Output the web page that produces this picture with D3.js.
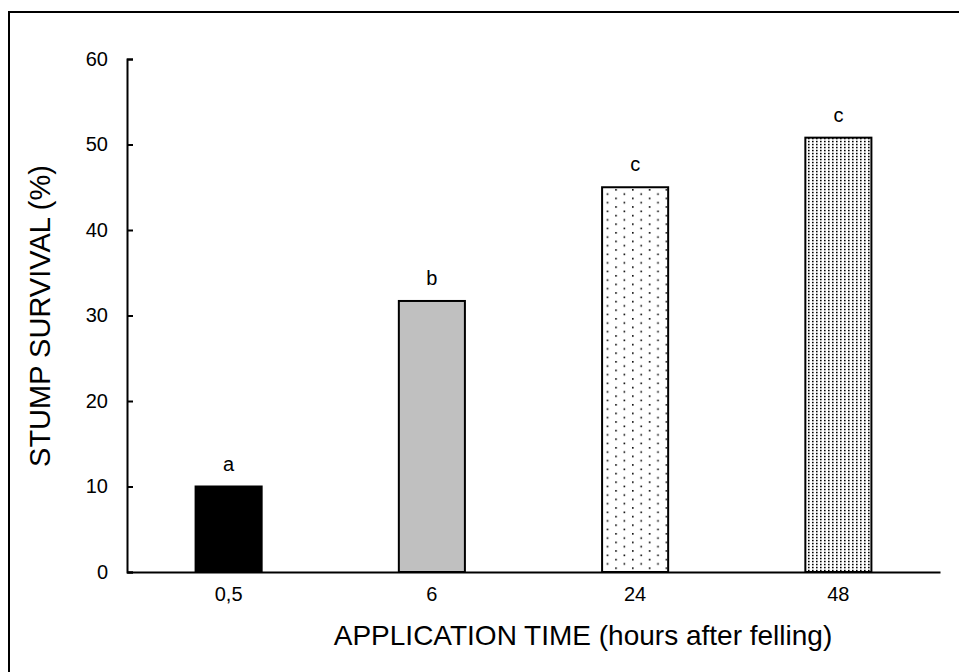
<!DOCTYPE html>
<html>
<head>
<meta charset="utf-8">
<script src="https://cdn.jsdelivr.net/npm/d3@7"></script>
<style>
  body { margin: 0; background: #fff; }
  text { font-family: "Liberation Sans", Arial, sans-serif; fill: #000; }
</style>
</head>
<body>
<div id="chart"></div>
<script>
// data
const categories = ["0,5", "6", "24", "48"];
const survival = [10, 31.7, 45, 50.8];
const letters = ["a", "b", "c", "c"];
const fills = ["#000000", "#c0c0c0", "url(#dotsSparse)", "url(#dotsDense)"];
const yTicks = [0, 10, 20, 30, 40, 50, 60];

const W = 959, H = 672;
const margin = {top: 59, right: 19, bottom: 100, left: 127},
    width = W - margin.left - margin.right,
    height = H - margin.top - margin.bottom;

const svg = d3.select("#chart").append("svg")
    .attr("width", W)
    .attr("height", H);

// fill patterns for the two dotted bars
const defs = svg.append("defs");
const p1 = defs.append("pattern").attr("id", "dotsSparse")
    .attr("patternUnits", "userSpaceOnUse").attr("width", 16.8).attr("height", 8.6);
p1.append("rect").attr("width", 16.8).attr("height", 8.6).attr("fill", "#fff");
p1.append("rect").attr("x", 1).attr("y", 1).attr("width", 1.6).attr("height", 1.6).attr("fill", "#000");
p1.append("rect").attr("x", 9.4).attr("y", 5.3).attr("width", 1.6).attr("height", 1.6).attr("fill", "#000");

const p2 = defs.append("pattern").attr("id", "dotsDense")
    .attr("patternUnits", "userSpaceOnUse").attr("width", 4).attr("height", 3);
p2.append("rect").attr("width", 4).attr("height", 3).attr("fill", "#fff");
p2.append("rect").attr("x", 1).attr("y", 0.8).attr("width", 1.6).attr("height", 1.5).attr("fill", "#000");

// frame
svg.append("rect")
    .attr("x", 9).attr("y", 12)
    .attr("width", 970).attr("height", 680)
    .attr("fill", "none").attr("stroke", "#000").attr("stroke-width", 2);

const g = svg.append("g")
    .attr("transform", `translate(${margin.left},${margin.top})`);

const x = d3.scaleBand()
    .domain(categories)
    .range([0, width])
    .paddingInner(0.675)
    .paddingOuter(0.3375);

const y = d3.scaleLinear()
    .domain([0, 60])
    .range([height, 0]);

// bars
g.selectAll(".bar")
  .data(survival)
  .join("rect")
    .attr("class", "bar")
    .attr("x", (d, i) => x(categories[i]))
    .attr("y", d => y(d))
    .attr("width", x.bandwidth())
    .attr("height", d => height - y(d))
    .attr("fill", (d, i) => fills[i])
    .attr("stroke", "#000")
    .attr("stroke-width", 2);

// significance letters
g.selectAll(".lbl")
  .data(survival)
  .join("text")
    .attr("class", "lbl")
    .attr("x", (d, i) => x(categories[i]) + x.bandwidth() / 2)
    .attr("y", d => y(d) - 16)
    .attr("text-anchor", "middle")
    .style("font-size", "20px")
    .text((d, i) => letters[i]);

// y axis
const yAxis = g.append("g")
    .call(d3.axisLeft(y).tickValues(yTicks).tickSizeInner(-6).tickSizeOuter(-6).tickPadding(19));
yAxis.select(".domain").attr("stroke-width", 2);
yAxis.selectAll(".tick line").attr("stroke-width", 2);
yAxis.selectAll("text").style("font-size", "20px");

// x axis
const xAxis = g.append("g")
    .attr("transform", `translate(0,${height})`)
    .call(d3.axisBottom(x).tickSize(0).tickPadding(15));
xAxis.select(".domain").attr("stroke-width", 2);
xAxis.selectAll("text").style("font-size", "20px");

// axis titles
svg.append("text")
    .attr("x", 583)
    .attr("y", 645)
    .attr("text-anchor", "middle")
    .style("font-size", "28px")
    .text("APPLICATION TIME (hours after felling)");

svg.append("text")
    .attr("transform", `translate(50,${316}) rotate(-90)`)
    .attr("text-anchor", "middle")
    .style("font-size", "29px")
    .text("STUMP SURVIVAL (%)");
</script>
</body>
</html>
